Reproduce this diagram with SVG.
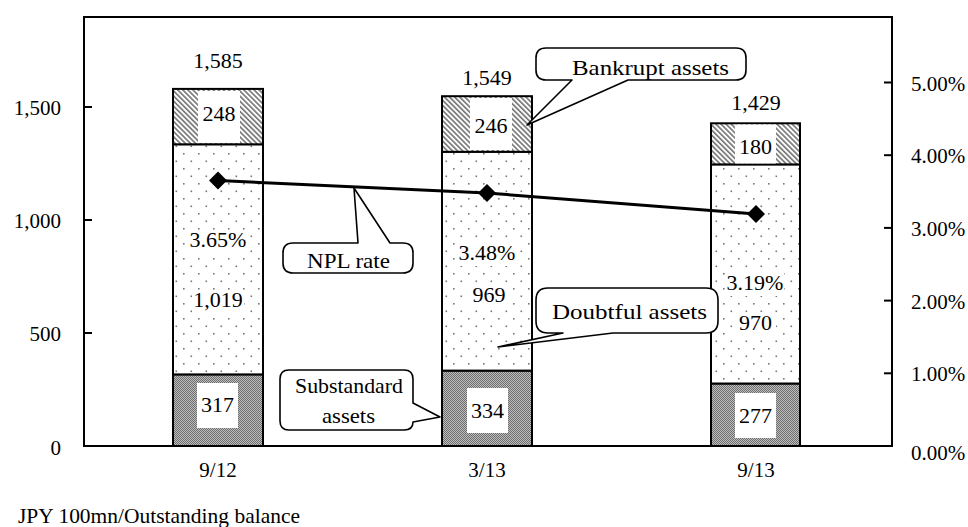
<svg xmlns="http://www.w3.org/2000/svg" width="968" height="527" viewBox="0 0 968 527">
  <style>
    text { font-family: "Liberation Serif", "Times New Roman", serif; fill: #000; }
    .ax { font-size: 21px; }
    .axl { text-anchor: end; }
    .lbl { font-size: 22px; text-anchor: middle; }
    .co { font-size: 21px; }
    .frame { fill: none; stroke: #000; stroke-width: 2; }
    .tick { stroke: #000; stroke-width: 2; }
    .seg { stroke: #000; stroke-width: 2; }
    .bg { fill: #fff; }
    .callout { fill: #fff; stroke: #000; stroke-width: 1.6; stroke-linejoin: round; }
    .npl { fill: none; stroke: #000; stroke-width: 3; }
  </style>
  <defs>
    <!-- Bankrupt assets: diagonal hatch -->
    <pattern id="hatch" width="3.6" height="3.6" patternUnits="userSpaceOnUse" patternTransform="rotate(-45)">
      <rect width="3.6" height="3.6" fill="#fff"/>
      <rect width="1.7" height="3.6" fill="#7a7a7a"/>
    </pattern>
    <!-- Doubtful assets: sparse dots -->
    <pattern id="dots" width="15" height="15" patternUnits="userSpaceOnUse">
      <rect width="15" height="15" fill="#fff"/>
      <rect x="3" y="3" width="1.6" height="1.6" fill="#777"/>
      <rect x="10.5" y="10.5" width="1.6" height="1.6" fill="#777"/>
    </pattern>
    <!-- Substandard assets: fine dither -->
    <pattern id="dither" width="2" height="2" patternUnits="userSpaceOnUse">
      <rect width="2" height="2" fill="#bdbdbd"/>
      <rect width="1" height="1" fill="#6e6e6e"/>
      <rect x="1" y="1" width="1" height="1" fill="#6e6e6e"/>
    </pattern>
    <path id="diamond" d="M0,-9 L9,0 L0,9 L-9,0 Z" fill="#000"/>
  </defs>

  <rect width="968" height="527" fill="#fff"/>

  <!-- plot frame and axes -->
  <g id="axes">
    <rect class="frame" x="84" y="17" width="808" height="429"/>
    <line class="tick" x1="84" y1="107" x2="92" y2="107"/>
    <line class="tick" x1="84" y1="220" x2="92" y2="220"/>
    <line class="tick" x1="84" y1="333" x2="92" y2="333"/>
    <line class="tick" x1="884" y1="82.5" x2="892" y2="82.5"/>
    <line class="tick" x1="884" y1="155.2" x2="892" y2="155.2"/>
    <line class="tick" x1="884" y1="227.9" x2="892" y2="227.9"/>
    <line class="tick" x1="884" y1="300.6" x2="892" y2="300.6"/>
    <line class="tick" x1="884" y1="373.3" x2="892" y2="373.3"/>

    <text class="ax axl" x="61" y="115">1,500</text>
    <text class="ax axl" x="61" y="228">1,000</text>
    <text class="ax axl" x="61" y="341">500</text>
    <text class="ax axl" x="61" y="455">0</text>

    <text class="ax" x="911" y="90.5">5.00%</text>
    <text class="ax" x="911" y="163">4.00%</text>
    <text class="ax" x="911" y="236">3.00%</text>
    <text class="ax" x="911" y="308.5">2.00%</text>
    <text class="ax" x="911" y="381">1.00%</text>
    <text class="ax" x="911" y="460">0.00%</text>

    <text class="ax" x="218" y="477" text-anchor="middle">9/12</text>
    <text class="ax" x="487" y="477" text-anchor="middle">3/13</text>
    <text class="ax" x="756" y="477" text-anchor="middle">9/13</text>
    <text class="ax" x="18" y="523" textLength="282" lengthAdjust="spacingAndGlyphs">JPY 100mn/Outstanding balance</text>
  </g>

  <!-- bar 9/12 -->
  <g id="bar-9-12">
    <rect class="seg" x="173" y="374.4" width="90" height="71.6" fill="url(#dither)"/>
    <rect class="seg" x="173" y="144.3" width="90" height="230.1" fill="url(#dots)"/>
    <rect class="seg" x="173" y="88.9" width="90" height="55.4" fill="url(#hatch)"/>
    <rect class="bg" x="198" y="91" width="42" height="52"/>
    <text class="lbl" x="219" y="121">248</text>
    <rect class="bg" x="190" y="230" width="57" height="23"/>
    <text class="lbl" x="218" y="247">3.65%</text>
    <rect class="bg" x="192" y="290" width="52" height="23"/>
    <text class="lbl" x="218" y="307">1,019</text>
    <rect class="bg" x="197" y="383" width="41" height="45"/>
    <text class="lbl" x="217.5" y="412">317</text>
    <text class="lbl" x="218" y="68">1,585</text>
  </g>

  <!-- bar 3/13 -->
  <g id="bar-3-13">
    <rect class="seg" x="442" y="370.6" width="90" height="75.4" fill="url(#dither)"/>
    <rect class="seg" x="442" y="151.8" width="90" height="218.8" fill="url(#dots)"/>
    <rect class="seg" x="442" y="96.2" width="90" height="55.6" fill="url(#hatch)"/>
    <rect class="bg" x="470" y="98" width="42" height="52"/>
    <text class="lbl" x="491" y="133">246</text>
    <rect class="bg" x="459" y="243" width="57" height="23"/>
    <text class="lbl" x="487" y="260">3.48%</text>
    <rect class="bg" x="467" y="286" width="44" height="23"/>
    <text class="lbl" x="489" y="302">969</text>
    <rect class="bg" x="467" y="388" width="41" height="45"/>
    <text class="lbl" x="487.5" y="418">334</text>
    <text class="lbl" x="487" y="85">1,549</text>
  </g>

  <!-- bar 9/13 -->
  <g id="bar-9-13">
    <rect class="seg" x="711" y="383.5" width="89" height="62.5" fill="url(#dither)"/>
    <rect class="seg" x="711" y="164.4" width="89" height="219.1" fill="url(#dots)"/>
    <rect class="seg" x="711" y="123.3" width="89" height="41.1" fill="url(#hatch)"/>
    <rect class="bg" x="735" y="124.5" width="41" height="39"/>
    <text class="lbl" x="755.5" y="154">180</text>
    <rect class="bg" x="727" y="273" width="57" height="23"/>
    <text class="lbl" x="755" y="290">3.19%</text>
    <rect class="bg" x="735" y="312" width="41" height="23"/>
    <text class="lbl" x="755.5" y="330">970</text>
    <rect class="bg" x="735" y="393" width="41" height="45"/>
    <text class="lbl" x="755.5" y="423">277</text>
    <text class="lbl" x="756" y="110">1,429</text>
  </g>

  <!-- NPL rate line with markers -->
  <g id="connectors">
    <polyline class="npl" points="218,180.6 487,193 756,214.1"/>
    <use href="#diamond" x="218" y="180.6"/>
    <use href="#diamond" x="487" y="193"/>
    <use href="#diamond" x="756" y="214.1"/>
  </g>

  <!-- callouts -->
  <g id="callout-bankrupt">
    <path class="callout" d="M546,48 H736 Q746,48 746,58 V70 Q746,80 736,80 H628 L527,125 L572,80 H546 Q536,80 536,70 V58 Q536,48 546,48 Z"/>
    <text class="co" x="572" y="75" textLength="157" lengthAdjust="spacingAndGlyphs">Bankrupt assets</text>
  </g>
  <g id="callout-npl">
    <path class="callout" d="M293,243 H358 L354,188 L390,243 H403 Q413,243 413,253 V263 Q413,273 403,273 H293 Q283,273 283,263 V253 Q283,243 293,243 Z"/>
    <text class="co" x="307" y="268" textLength="83" lengthAdjust="spacingAndGlyphs">NPL rate</text>
  </g>
  <g id="callout-doubtful">
    <path class="callout" d="M548,288 H706 Q718,288 718,300 V321 Q718,333 706,333 H613 L498,347 L563,333 H548 Q536,333 536,321 V300 Q536,288 548,288 Z"/>
    <text class="co" x="552" y="319" textLength="155" lengthAdjust="spacingAndGlyphs">Doubtful assets</text>
  </g>
  <g id="callout-substandard">
    <path class="callout" d="M289,370 H404 Q413,370 413,379 V403 L440,417 L413,422 Q413,430 404,430 H289 Q280,430 280,421 V379 Q280,370 289,370 Z"/>
    <text class="co" x="295" y="393" textLength="108" lengthAdjust="spacingAndGlyphs">Substandard</text>
    <text class="co" x="322" y="423" textLength="53" lengthAdjust="spacingAndGlyphs">assets</text>
  </g>
</svg>
